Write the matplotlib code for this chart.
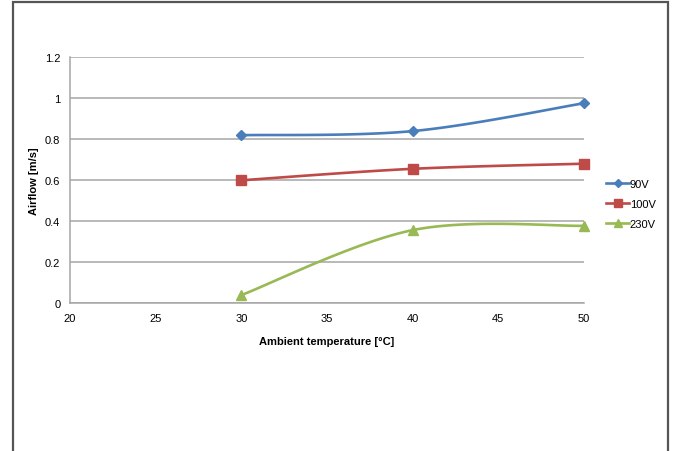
import numpy as np
import matplotlib
matplotlib.use("Agg")
import matplotlib.pyplot as plt
from matplotlib.patches import Rectangle
from matplotlib.lines import Line2D

plt.rcParams['font.family'] = ['Liberation Sans', 'DejaVu Sans']

temperature = [30, 40, 50]
airflow_90v = [0.82, 0.84, 0.976]
airflow_100v = [0.60, 0.656, 0.681]
airflow_230v = [0.04, 0.357, 0.378]
series_labels = ["90V", "100V", "230V"]
x_ticks = [20, 25, 30, 35, 40, 45, 50]
y_ticks = [0, 0.2, 0.4, 0.6, 0.8, 1, 1.2]
y_tick_labels = ["0", "0.2", "0.4", "0.6", "0.8", "1", "1.2"]

colors = ["#4A7EBB", "#BE4B48", "#98B954"]
markers = ["D", "s", "^"]
msizes = [5, 7, 7]


def smooth(xs, ys, n=40):
    """Cardinal (Catmull-Rom style) Bezier smoothing through the points."""
    p = np.column_stack([xs, ys]).astype(float)
    pts = []
    for i in range(len(p) - 1):
        p0 = p[i - 1] if i > 0 else p[i]
        p1, p2 = p[i], p[i + 1]
        p3 = p[i + 2] if i + 2 < len(p) else p[i + 1]
        c1 = p1 + (p2 - p0) / 6.0
        c2 = p2 - (p3 - p1) / 6.0
        t = np.linspace(0, 1, n)[:, None]
        seg = ((1 - t) ** 3) * p1 + 3 * ((1 - t) ** 2) * t * c1 + 3 * (1 - t) * t ** 2 * c2 + t ** 3 * p2
        pts.append(seg if i == 0 else seg[1:])
    pts = np.vstack(pts)
    return pts[:, 0], pts[:, 1]


fig = plt.figure(figsize=(6.74, 4.52), dpi=100)
ax = fig.add_axes([70 / 674, 1 - 304.3 / 452, (584 - 70) / 674, (304.3 - 58.3) / 452])

handles = []
for ys, c, m, ms, lab in zip([airflow_90v, airflow_100v, airflow_230v], colors, markers, msizes, series_labels):
    sx, sy = smooth(temperature, ys)
    ax.plot(sx, sy, color=c, lw=1.9, solid_capstyle='round', zorder=3, clip_on=False)
    ax.plot(temperature, ys, linestyle='none', marker=m, markersize=ms, color=c, zorder=4, clip_on=False)
    handles.append(Line2D([], [], color=c, lw=1.9, marker=m, markersize=ms - 1, label=lab))

ax.set_xlim(20, 50)
ax.set_ylim(0, 1.2)
ax.set_xticks(x_ticks)
ax.set_yticks(y_ticks)
ax.set_yticklabels(y_tick_labels)
ax.tick_params(axis='both', length=0, labelsize=8, colors='black', pad=7)
ax.yaxis.grid(True, color='#A6A6A6', lw=1.1)
ax.set_axisbelow(True)
for side in ['top', 'right']:
    ax.spines[side].set_visible(False)
for side in ['left', 'bottom']:
    ax.spines[side].set_color('#A6A6A6')
    ax.spines[side].set_linewidth(1.1)

ax.set_xlabel("Ambient temperature [°C]", fontsize=8, fontweight='bold', labelpad=9)
ax.set_ylabel("Airflow [m/s]", fontsize=8, fontweight='bold', labelpad=4)

fig.legend(handles=handles, loc='center left', bbox_to_anchor=(602 / 674, 1 - 205 / 452),
           frameon=False, fontsize=8, handlelength=2.0, handletextpad=0.1,
           labelspacing=0.9, borderaxespad=0)

# chart-area border
fig.patches.append(Rectangle((13 / 674, -0.05), (668 - 13) / 674, 1.05 - 3 / 452,
                             transform=fig.transFigure, fill=False,
                             edgecolor='#555555', lw=1.6))

fig.savefig("out.png", dpi=100)
